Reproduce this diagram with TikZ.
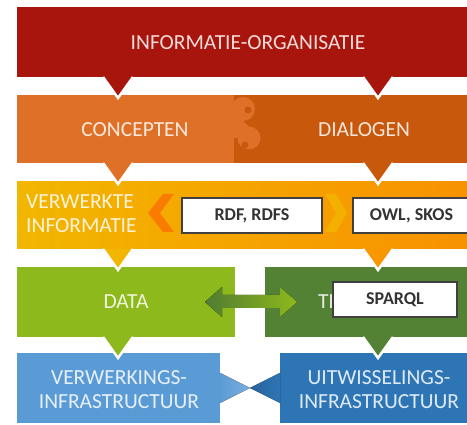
\documentclass[tikz,border=0pt]{standalone}
\usepackage{fontspec}
\setmainfont{Carlito}
\usepackage{tikz}
\usetikzlibrary{positioning}

\definecolor{orgred}{RGB}{168,21,13}
\definecolor{conclight}{RGB}{223,112,40}
\definecolor{concdark}{RGB}{200,88,12}
\definecolor{infoyellow}{RGB}{242,182,0}
\definecolor{infoorange}{RGB}{248,146,0}
\definecolor{datagreen}{RGB}{142,185,28}
\definecolor{transgreen}{RGB}{84,130,53}
\definecolor{verwblue}{RGB}{91,155,213}
\definecolor{uitwblue}{RGB}{46,117,182}

\begin{document}
\begin{tikzpicture}[x=1pt, y=-1pt,
  bartext/.style={text=white, text opacity=0.85, font=\fontsize{21.5}{24}\selectfont, inner sep=0pt},
  tagbox/.style={draw=black!75, line width=1.1pt, fill=white, text=black!80,
    font=\fontsize{18}{20}\selectfont\bfseries, minimum height=35pt, inner sep=0pt}]
  \useasboundingbox (0,0) rectangle (467,425);
  \fill[white] (0,0) rectangle (467,425);

  % top layer
  \fill[orgred] (17,7) rectangle (467,77);
  \node[bartext] (organisatie) at (248,43) {INFORMATIE-ORGANISATIE};

  % concepts / dialogues with the S-shaped split
  \fill[concdark] (17,95) rectangle (467,163);
  \fill[conclight] (17,95) rectangle (234,163);
  \fill[conclight] (243,109) circle (12) (249,138) circle (11.5);
  \fill[conclight] (234,110) -- (243,121) -- (249,126.5) -- (239,138) -- (234,138) -- cycle;
  \fill[concdark] (248,110) circle (3.5) (245,145) circle (3.5);
  \node[bartext] (concepten) at (135,130) {CONCEPTEN};
  \node[bartext] (dialogen) at (364,130) {DIALOGEN};

  % processed information
  \fill[left color=infoyellow, right color=infoorange] (17,182) rectangle (467,249);
  \node[bartext, align=left, anchor=west] (verwerkt) at (26,214) {VERWERKTE\\INFORMATIE};
  \fill[infoorange!85!red] (148,213) -- (163,194) -- (174,194) -- (160,213) -- (174,232) -- (163,232) -- cycle;
  \fill[infoyellow!90!orange] (325,194) -- (336,194) -- (347,213) -- (336,232) -- (325,232) -- (336,213) -- cycle;
  \node[tagbox, minimum width=140pt] (rdf) at (252,215.5) {RDF, RDFS};
  \node[tagbox, minimum width=117pt] (owl) at (411.5,215.5) {OWL, SKOS};

  % data and transactions
  \fill[datagreen] (17,267) rectangle (235,337);
  \fill[transgreen] (265,267) rectangle (467,337);
  \node[bartext] (data) at (126,302) {DATA};
  \node[bartext, anchor=west] (trans) at (318,302) {TR};
  \coordinate (dataend) at (205,302);
  \coordinate (transend) at (297,302);
  \fill[left color=transgreen!95!black, right color=datagreen] (dataend) -- ++(17,-15) -- ++(0,8) -- ++(58,0)
    -- ++(0,-8) -- (transend) -- ++(-17,15) -- ++(0,-9) -- ++(-58,0) -- ++(0,9) -- cycle;
  \node[tagbox, minimum width=124pt] (sparql) at (395,299.5) {SPARQL};

  % infrastructure
  \fill[verwblue] (17,353) rectangle (220,423);
  \fill[uitwblue] (280,353) rectangle (467,423);
  \fill[left color=verwblue, right color=verwblue!80!white] (220,373) -- (250,388) -- (220,403) -- cycle;
  \fill[left color=uitwblue!85!black, right color=uitwblue] (280,373) -- (250,388) -- (280,403) -- cycle;
  \node[bartext, align=center] (verwinfra) at (119,390) {VERWERKINGS-\\INFRASTRUCTUUR};
  \node[bartext, align=center] (uitwinfra) at (379,390) {UITWISSELINGS-\\INFRASTRUCTUUR};

  % pointers from each layer to the next
  \foreach \base/\lcol/\rcol in {77/orgred/orgred, 163/conclight/concdark,
      249/infoyellow/infoorange!95!yellow, 337/datagreen/transgreen} {
    \begin{scope}
      \clip (0,\base) rectangle (467,\base+30);
      \path[fill=\lcol, draw=white, line width=2.5pt] (103,\base) -- (118,\base+21) -- (133,\base);
      \path[fill=\rcol, draw=white, line width=2.5pt] (363,\base) -- (378,\base+21) -- (393,\base);
    \end{scope}
  }
\end{tikzpicture}
\end{document}
